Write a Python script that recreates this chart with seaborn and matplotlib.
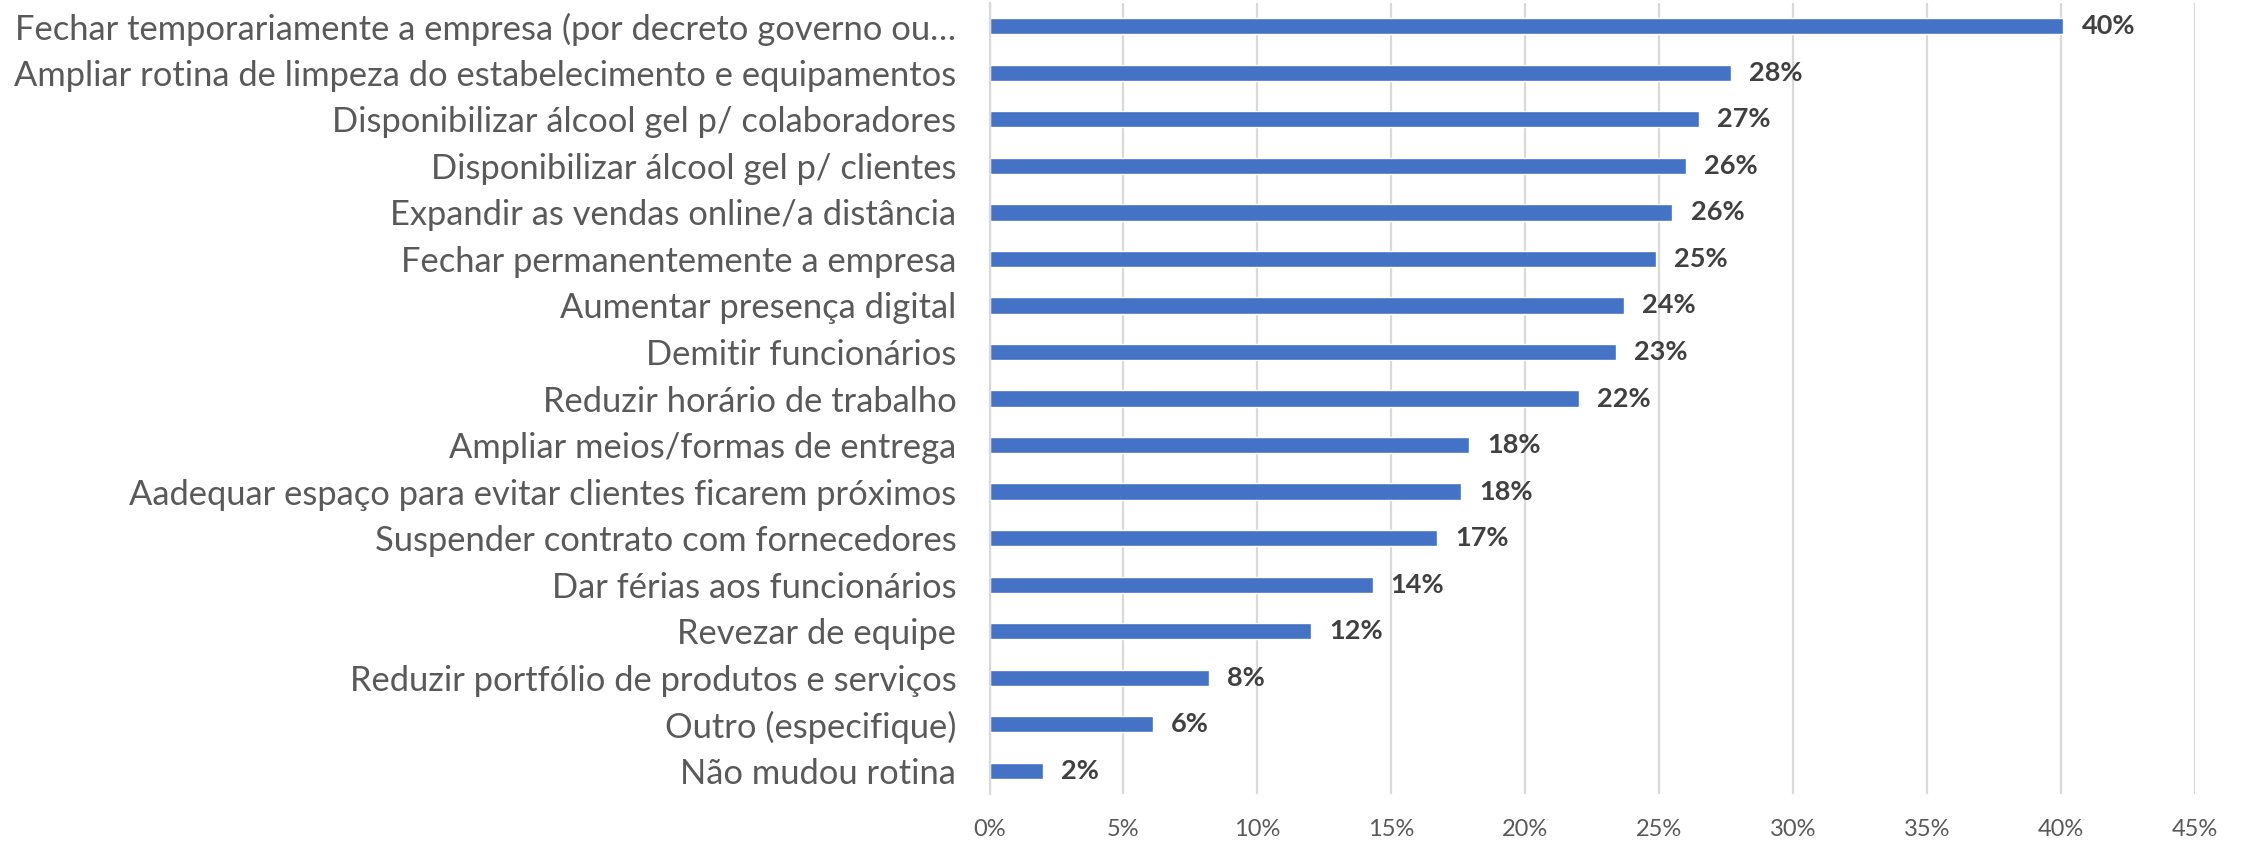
import matplotlib
matplotlib.use("Agg")
import matplotlib.pyplot as plt
import seaborn as sns
import pandas as pd
from matplotlib.ticker import FuncFormatter

categories = [
    "Fechar temporariamente a empresa (por decreto governo ou…",
    "Ampliar rotina de limpeza do estabelecimento e equipamentos",
    "Disponibilizar álcool gel p/ colaboradores",
    "Disponibilizar álcool gel p/ clientes",
    "Expandir as vendas online/a distância",
    "Fechar permanentemente a empresa",
    "Aumentar presença digital",
    "Demitir funcionários",
    "Reduzir horário de trabalho",
    "Ampliar meios/formas de entrega",
    "Aadequar espaço para evitar clientes ficarem próximos",
    "Suspender contrato com fornecedores",
    "Dar férias aos funcionários",
    "Revezar de equipe",
    "Reduzir portfólio de produtos e serviços",
    "Outro (especifique)",
    "Não mudou rotina",
]
values = [40.1, 27.7, 26.5, 26.0, 25.5, 24.9, 23.7, 23.4, 22.0,
          17.9, 17.6, 16.7, 14.3, 12.0, 8.2, 6.1, 2.0]
value_labels = ["40%", "28%", "27%", "26%", "26%", "25%", "24%", "23%", "22%",
                "18%", "18%", "17%", "14%", "12%", "8%", "6%", "2%"]
x_ticks = [0, 5, 10, 15, 20, 25, 30, 35, 40, 45]

df = pd.DataFrame({"acao": categories, "pct": values})

sns.set_theme(style="white")
plt.rcParams["font.family"] = ["Lato", "DejaVu Sans"]

fig = plt.figure(figsize=(22.44, 8.43), dpi=100)
ax = fig.add_axes([0.441, 0.058, 0.537, 0.9385])

sns.barplot(data=df, x="pct", y="acao", orient="h", color="#4472C4",
            saturation=1, width=0.35, ax=ax)

ax.set_xlim(0, 45)
ax.set_ylim(16.5, -0.5)
ax.set_xticks(x_ticks)
ax.xaxis.set_major_formatter(FuncFormatter(lambda v, p: f"{v:.0f}%"))
ax.grid(axis="x", color="#D9D9D9", linewidth=1.6)
ax.set_axisbelow(True)
for s in ["top", "right", "bottom"]:
    ax.spines[s].set_visible(False)
ax.spines["left"].set_color("#D9D9D9")
ax.spines["left"].set_linewidth(1.6)
ax.set_xlabel("")
ax.set_ylabel("")
ax.tick_params(axis="y", length=0, pad=24, labelsize=24.8, labelcolor="#595959")
ax.tick_params(axis="x", length=0, pad=18, labelsize=17, labelcolor="#595959")

for i, (v, lab) in enumerate(zip(values, value_labels)):
    ax.annotate(lab, xy=(v, i), xytext=(13, 0), textcoords="offset points",
                ha="left", va="center", fontsize=19.5, fontweight="bold",
                color="#404040")

fig.savefig("out.png", dpi=100)
